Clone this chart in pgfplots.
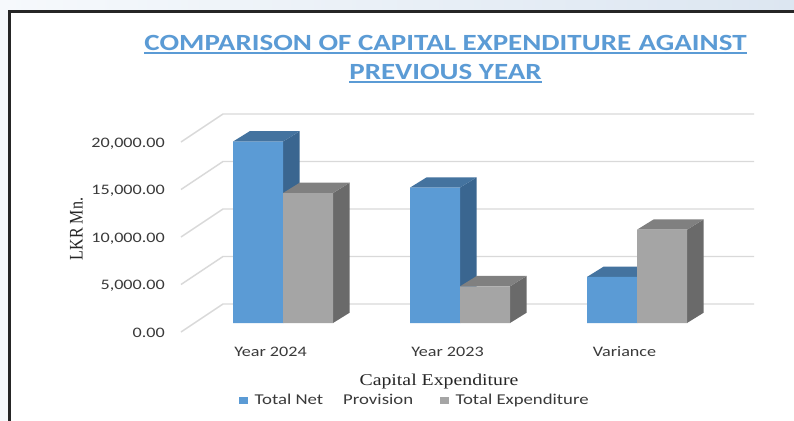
\documentclass[border=0pt]{standalone}
\usepackage{fontspec}
\setmainfont{Carlito}[FakeStretch=1.25]
\newfontfamily\serifst{Liberation Serif}[FakeStretch=1.2]
\newfontfamily\serifplain{Liberation Serif}
\usepackage{graphicx}
\usepackage{pgfplots}
\pgfplotsset{compat=1.18}
\definecolor{bfront}{HTML}{5B9BD5}
\definecolor{btop}{HTML}{44739F}
\definecolor{bside}{HTML}{3A6690}
\definecolor{gfront}{HTML}{A5A5A5}
\definecolor{gtop}{HTML}{808080}
\definecolor{gside}{HTML}{6A6A6A}
\definecolor{gridc}{HTML}{D9D9D9}
\definecolor{txt}{HTML}{3A3A3A}
\definecolor{titlec}{HTML}{5B9BD5}
\definecolor{bgl}{HTML}{F6F9FC}
\definecolor{bgr}{HTML}{DCE6F1}
\begin{document}
\begin{tikzpicture}
\path[use as bounding box] (0,0) rectangle (794pt,-420pt);
\shade[left color=bgl, right color=bgr] (0,0) rectangle (794pt,-420pt);
\fill[white] (9.5pt,-11.5pt) rectangle (800pt,-430pt);
\draw[black!85, line width=2.6pt] (9.5pt,-425pt) -- (9.5pt,-11.5pt) -- (800pt,-11.5pt);
% title
\node[anchor=base, inner sep=0pt, text=titlec, font=\fontsize{23.2}{28}\selectfont\bfseries] (t1) at (445.5pt,-50pt) {COMPARISON OF CAPITAL EXPENDITURE\hspace{0.32em}AGAINST};
\draw[titlec, line width=1.3pt] ([yshift=-3pt]t1.base west) -- ([yshift=-3pt]t1.base east);
\node[anchor=base, inner sep=0pt, text=titlec, font=\fontsize{23.2}{28}\selectfont\bfseries] (t2) at (445.5pt,-79pt) {PREVIOUS YEAR};
\draw[titlec, line width=1.3pt] ([yshift=-3pt]t2.base west) -- ([yshift=-3pt]t2.base east);
\begin{axis}[
  at={(194.5pt,-323pt)}, anchor=south west,
  scale only axis, width=531pt, height=190pt,
  xmin=-0.5, xmax=2.5, ymin=0, ymax=20000,
  clip=false,
  scaled y ticks=false,
  axis line style={draw=none},
  tick style={draw=none},
  major tick length=0pt,
  xtick={0,1,2}, xticklabels={Year 2024,Year 2023,Variance},
  ytick={0,5000,10000,15000,20000},
  yticklabels={0.00,{5,000.00},{10,000.00},{15,000.00},{20,000.00}},
  xticklabel style={anchor=base, yshift=-33pt, xshift=-12.5pt, inner sep=0pt, font=\fontsize{14.5}{17}\selectfont, text=txt},
  yticklabel style={anchor=base east, xshift=-29.5pt, yshift=-14pt, inner sep=0pt, font=\fontsize{14.5}{17}\selectfont, text=txt},
  xlabel={Capital Expenditure},
  xlabel style={at={(axis description cs:0.4605,-0.3263)}, anchor=base, inner sep=0pt, font=\serifst\fontsize{16.5}{19}\selectfont, text=black!85},
  ylabel={\scalebox{1}[1.2]{LKR Mn.}},
  ylabel style={at={(axis description cs:-0.2222,0.4947)}, anchor=center, inner sep=0pt, font=\serifplain\fontsize{16}{19}\selectfont, text=black!85},
  legend image code/.code={\fill[#1] (0pt,-3.5pt) rectangle (9pt,3.5pt);},
  legend style={at={(axis description cs:0.0838,-0.4053)}, anchor=west, draw=none, fill=none, inner sep=0pt,
    legend columns=2, font=\fontsize{15}{18}\selectfont, text=txt,
    nodes={inner sep=0pt},
    /tikz/every odd column/.append style={column sep=6.5pt},
    /tikz/every even column/.append style={column sep=27pt}},
]
\addlegendimage{fill=bfront, draw=none}
\addlegendimage{fill=gfront, draw=none}
\addlegendentry{Total Net\hspace*{20pt}Provision}
\addlegendentry{Total Expenditure}
% gridlines (floor/back wall)
\addplot[gridc, line width=1.4pt, line join=round, forget plot] coordinates {(-0.5763,-947) (-0.339,2000) (2.661,2000)};
\addplot[gridc, line width=1.4pt, line join=round, forget plot] coordinates {(-0.5763,4053) (-0.339,7000) (2.661,7000)};
\addplot[gridc, line width=1.4pt, line join=round, forget plot] coordinates {(-0.5763,9053) (-0.339,12000) (2.661,12000)};
\addplot[gridc, line width=1.4pt, line join=round, forget plot] coordinates {(-0.5763,14053) (-0.339,17000) (2.661,17000)};
\addplot[gridc, line width=1.4pt, line join=round, forget plot] coordinates {(-0.5763,19053) (-0.339,22000) (2.661,22000)};
% Total Net Provision: side faces
\addplot[fill=bside, draw=none, forget plot] coordinates {(0,0) (0.0945,1090) (0.0945,20190) (0,19100)};
\addplot[fill=bside, draw=none, forget plot] coordinates {(1,0) (1.0945,1090) (1.0945,15340) (1,14250)};
\addplot[fill=bside, draw=none, forget plot] coordinates {(2,0) (2.0945,1090) (2.0945,5940) (2,4850)};
% top faces
\addplot[fill=btop, draw=none, forget plot] coordinates {(-0.2825,19100) (0,19100) (0.0945,20190) (-0.188,20190)};
\addplot[fill=btop, draw=none, forget plot] coordinates {(0.7175,14250) (1,14250) (1.0945,15340) (0.812,15340)};
\addplot[fill=btop, draw=none, forget plot] coordinates {(1.7175,4850) (2,4850) (2.0945,5940) (1.812,5940)};
% front faces
\addplot[ybar, bar width=0.2825, bar shift=-0.14125, fill=bfront, draw=none, forget plot] coordinates {(0,19100) (1,14250) (2,4850)};
% Total Expenditure: side faces
\addplot[fill=gside, draw=none, forget plot] coordinates {(0.2825,0) (0.377,1090) (0.377,14770) (0.2825,13680)};
\addplot[fill=gside, draw=none, forget plot] coordinates {(1.2825,0) (1.377,1090) (1.377,4950) (1.2825,3860)};
\addplot[fill=gside, draw=none, forget plot] coordinates {(2.2825,0) (2.377,1090) (2.377,10910) (2.2825,9820)};
% top faces
\addplot[fill=gtop, draw=none, forget plot] coordinates {(0,13680) (0.2825,13680) (0.377,14770) (0.0945,14770)};
\addplot[fill=gtop, draw=none, forget plot] coordinates {(1,3860) (1.2825,3860) (1.377,4950) (1.0945,4950)};
\addplot[fill=gtop, draw=none, forget plot] coordinates {(2,9820) (2.2825,9820) (2.377,10910) (2.0945,10910)};
% front faces
\addplot[ybar, bar width=0.2825, bar shift=0.14125, fill=gfront, draw=none, forget plot] coordinates {(0,13680) (1,3860) (2,9820)};
\end{axis}
\end{tikzpicture}
\end{document}
